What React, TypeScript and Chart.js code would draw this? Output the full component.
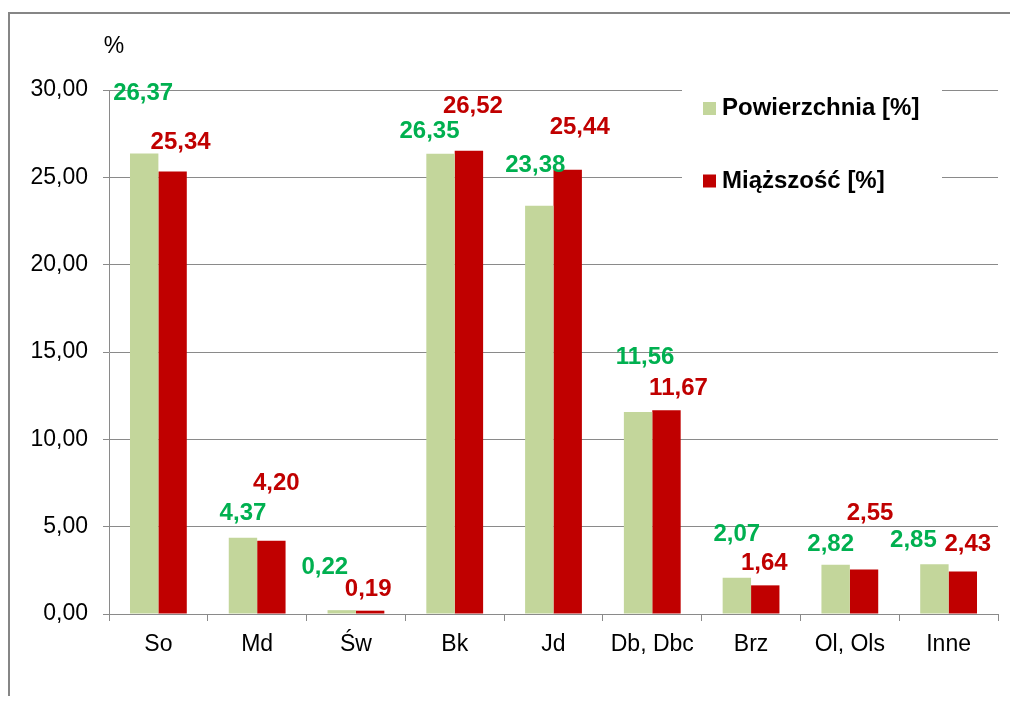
import React, { useEffect, useRef } from "react";
import { Chart, registerables } from "chart.js";

Chart.register(...registerables);

const categories = ["So", "Md", "Św", "Bk", "Jd", "Db, Dbc", "Brz", "Ol, Ols", "Inne"];
const powierzchnia = [26.37, 4.37, 0.22, 26.35, 23.38, 11.56, 2.07, 2.82, 2.85];
const miazszosc = [25.34, 4.2, 0.19, 26.52, 25.44, 11.67, 1.64, 2.55, 2.43];
const seriesNames = ["Powierzchnia [%]", "Miąższość [%]"];
const yMin = 0;
const yMax = 30;
const yStep = 5;
const unitLabel = "%";

// label placement offsets (px) relative to the bar top centre, as placed in the original
const greenLabelOffsets = [
  [-1, -60], [0, -24], [-17, -43], [-11, -22], [-4, -40], [7, -55], [0, -43], [-5, -20], [-21, -24],
];
const redLabelOffsets = [
  [8, -29], [5, -57], [-2, -21], [4, -44], [12, -42], [12, -22], [-1, -22], [6, -56], [5, -27],
];

const FONT = "'Liberation Sans', Arial, sans-serif";
const GREEN_BAR = "#C3D69B";
const RED_BAR = "#C00000";
const GREEN_TEXT = "#00B050";
const RED_TEXT = "#C00000";
const GRID = "#8A8A8A";

const fmt = (v: number) => v.toFixed(2).replace(".", ",");

const valueLabels = {
  id: "valueLabels",
  afterDatasetsDraw(chart: any) {
    const ctx = chart.ctx;
    const offsets = [greenLabelOffsets, redLabelOffsets];
    const colors = [GREEN_TEXT, RED_TEXT];
    chart.data.datasets.forEach((ds: any, i: number) => {
      const meta = chart.getDatasetMeta(i);
      meta.data.forEach((el: any, j: number) => {
        const [dx, dy] = offsets[i][j];
        ctx.save();
        ctx.font = `bold 24px ${FONT}`;
        ctx.fillStyle = colors[i];
        ctx.textAlign = "center";
        ctx.textBaseline = "middle";
        ctx.fillText(fmt(ds.data[j]), el.x + dx, el.y + dy);
        ctx.restore();
      });
    });
  },
};

const legendAndUnit = {
  id: "legendAndUnit",
  afterDraw(chart: any) {
    const ctx = chart.ctx;
    const a = chart.chartArea;
    ctx.save();
    // unit label
    ctx.font = `23px ${FONT}`;
    ctx.fillStyle = "#000";
    ctx.textAlign = "center";
    ctx.textBaseline = "middle";
    ctx.fillText(unitLabel, a.left + 5, a.top - 43);
    // legend box
    const lx = a.left + 573;
    const ly = a.top - 6;
    ctx.fillStyle = "#fff";
    ctx.fillRect(lx, ly, 260, 116);
    const colors = [GREEN_BAR, RED_BAR];
    seriesNames.forEach((name, i) => {
      const cy = a.top + 18.5 + i * 72.5;
      ctx.fillStyle = colors[i];
      ctx.fillRect(lx + 21, cy - 6.5, 13, 13);
      ctx.fillStyle = "#000";
      ctx.font = `bold 24px ${FONT}`;
      ctx.textAlign = "left";
      ctx.textBaseline = "middle";
      ctx.fillText(name, lx + 40, cy);
    });
    ctx.restore();
  },
};

export default function App() {
  const ref = useRef<HTMLCanvasElement>(null);
  useEffect(() => {
    if (!ref.current) return;
    const chart = new Chart(ref.current, {
      type: "bar",
      data: {
        labels: categories,
        datasets: [
          { label: seriesNames[0], data: powierzchnia, backgroundColor: GREEN_BAR, categoryPercentage: 0.575, barPercentage: 1 },
          { label: seriesNames[1], data: miazszosc, backgroundColor: RED_BAR, categoryPercentage: 0.575, barPercentage: 1 },
        ],
      },
      options: {
        responsive: false,
        animation: false,
        devicePixelRatio: 1,
        layout: { padding: { top: 82, left: 10, right: 20, bottom: 38 } },
        plugins: { legend: { display: false }, tooltip: { enabled: false } },
        scales: {
          x: {
            grid: { display: true, drawOnChartArea: false, drawTicks: true, tickLength: 7, color: GRID },
            border: { display: true, color: GRID },
            ticks: { color: "#000", font: { family: FONT, size: 23 }, padding: 10, maxRotation: 0, autoSkip: false },
            afterFit: (s: any) => { s.height = 44; },
          },
          y: {
            min: yMin,
            max: yMax,
            grid: { color: GRID, tickLength: 6 },
            border: { display: true, color: GRID },
            ticks: {
              stepSize: yStep,
              color: "#000",
              font: { family: FONT, size: 23 },
              padding: 15,
              callback: (v: any) => fmt(Number(v)),
            },
            afterFit: (s: any) => { s.width = 91; },
          },
        },
      },
      plugins: [valueLabels, legendAndUnit],
    });
    return () => chart.destroy();
  }, []);
  return (
    <div style={{ position: "relative", width: 1010, height: 688, overflow: "hidden" }}>
      <div
        style={{
          position: "absolute",
          left: 0,
          top: 4,
          width: 1100,
          height: 900,
          border: "2px solid #868686",
          boxSizing: "border-box",
        }}
      />
      <canvas ref={ref} width={1010} height={688} style={{ position: "absolute", left: 0, top: 0, display: "block" }} />
    </div>
  );
}
